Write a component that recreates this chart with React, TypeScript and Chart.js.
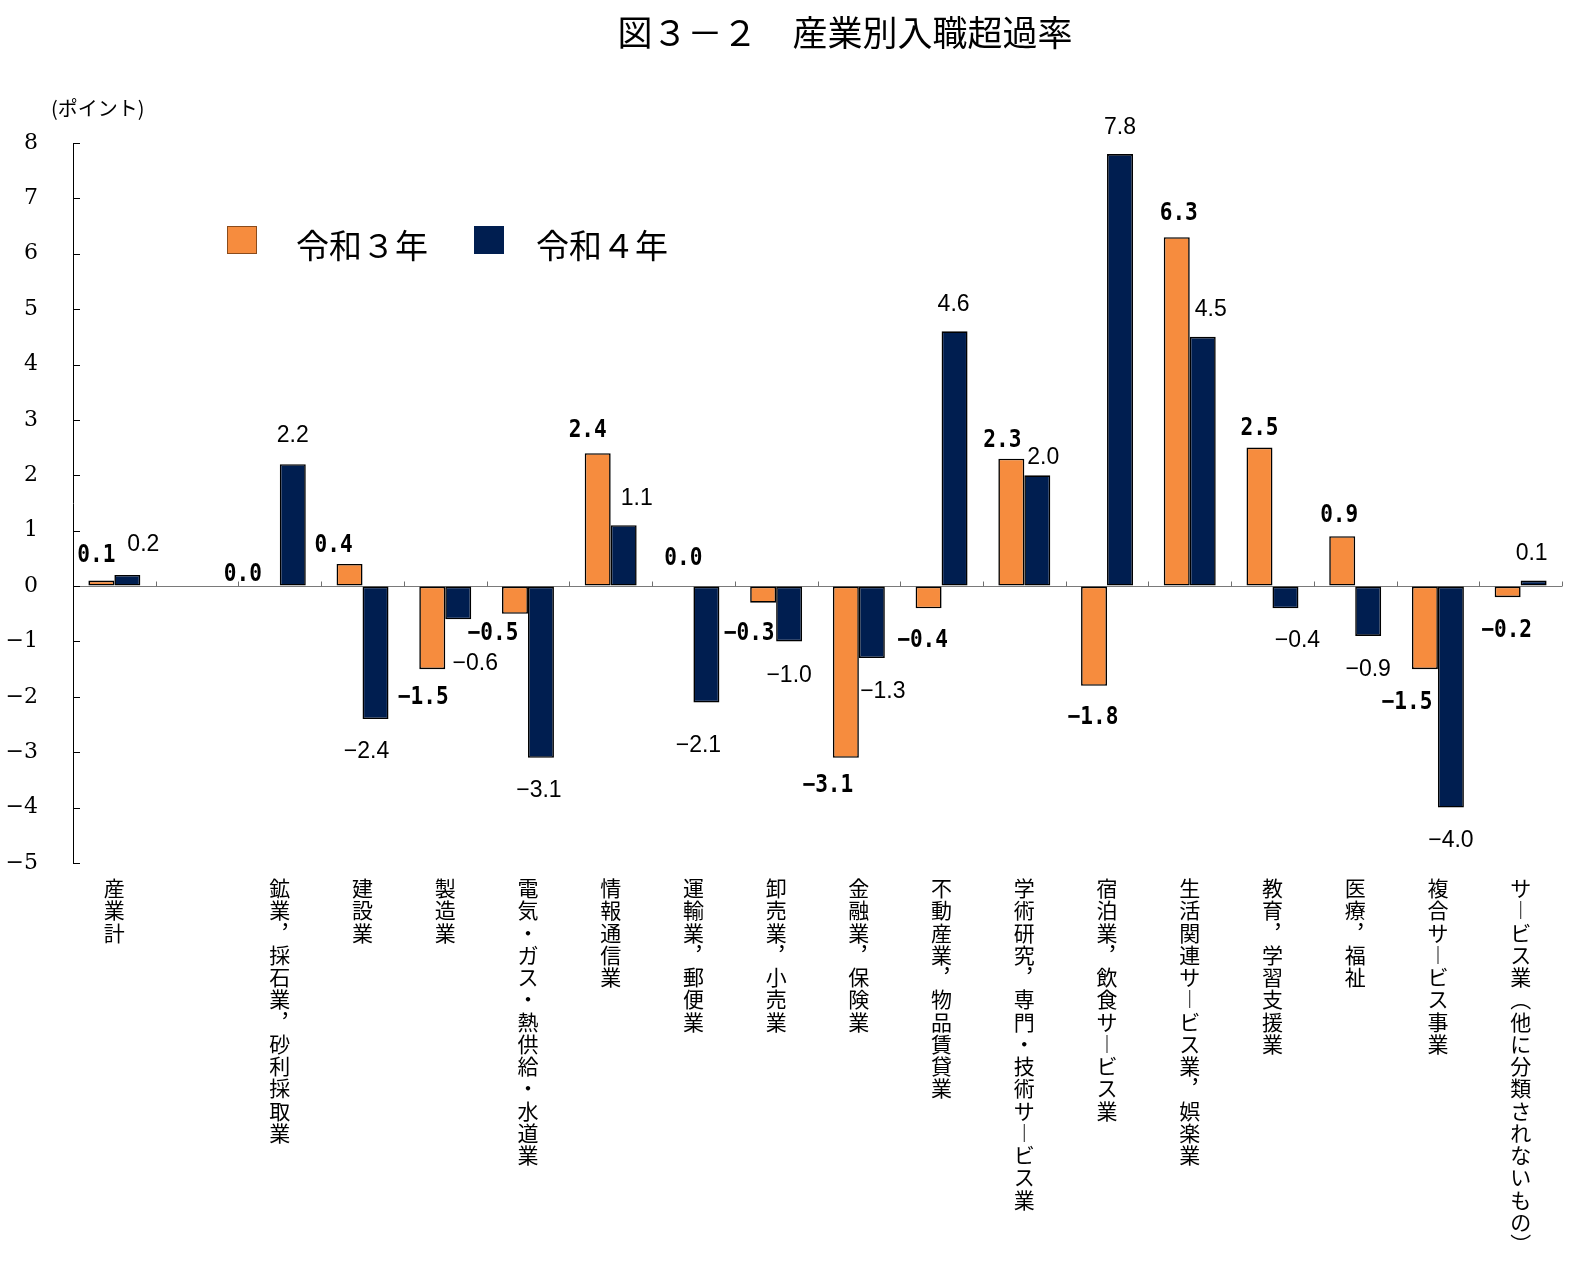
import React, { useEffect, useRef } from "react";
import { Chart, registerables } from "chart.js";

Chart.register(...registerables);

const TITLE = "図３－２　産業別入職超過率";
const UNIT_LABEL = "(ポイント)";

const categories = [
  "産業計",
  "",
  "鉱業，採石業，砂利採取業",
  "建設業",
  "製造業",
  "電気・ガス・熱供給・水道業",
  "情報通信業",
  "運輸業，郵便業",
  "卸売業，小売業",
  "金融業，保険業",
  "不動産業，物品賃貸業",
  "学術研究，専門・技術サービス業",
  "宿泊業，飲食サービス業",
  "生活関連サービス業，娯楽業",
  "教育，学習支援業",
  "医療，福祉",
  "複合サービス事業",
  "サービス業（他に分類されないもの）",
];

const seriesNames = ["令和３年", "令和４年"];

const r3Values: (number | null)[] = [0.1, null, 0.0, 0.4, -1.5, -0.5, 2.4, 0.0, -0.3, -3.1, -0.4, 2.3, -1.8, 6.3, 2.5, 0.9, -1.5, -0.2];
const r4Values: (number | null)[] = [0.2, null, 2.2, -2.4, -0.6, -3.1, 1.1, -2.1, -1.0, -1.3, 4.6, 2.0, 7.8, 4.5, -0.4, -0.9, -4.0, 0.1];

const yMin = -5;
const yMax = 8;
const yStep = 1;

// label nudges (px) relative to the bar end, as placed in the original figure
const r3LabelNudge: [number, number][] = [
  [-5, -27], [0, 0], [-24, -14], [-16, -21], [-9, 26], [-22, 18], [-10, -25], [3, -30], [-14, 29],
  [-18, 26], [-6, 30], [-9, -20], [-1, 30], [2, -26], [0, -21], [-3, -23], [-18, 31], [-1, 31],
];
const r4LabelNudge: [number, number][] = [
  [16, -32], [0, 0], [0, -31], [-9, 31], [17, 42], [-2, 31], [13, -28], [-8, 41], [0, 32],
  [11, 32], [-1, -29], [6, -20], [0, -28], [8, -29], [12, 30], [0, 32], [0, 31], [-2, -29],
];

const COLOR_R3 = "#F68C3E";
const COLOR_R4 = "#001E50";

const VERTICAL_MAP: Record<string, string> = {
  "，": "\uFE10",
  "ー": "\uFE31",
  "（": "\uFE35",
  "）": "\uFE36",
};

function toVertical(s: string): string | string[] {
  if (!s) return "";
  return Array.from(s).map((c) => VERTICAL_MAP[c] || c);
}

function fmt(v: number): string {
  const s = Math.abs(v).toFixed(1);
  return v < 0 ? "\u2212" + s : s;
}

export default function App() {
  const ref = useRef<HTMLCanvasElement>(null);

  useEffect(() => {
    const canvas = ref.current;
    if (!canvas) return;

    const decor = {
      id: "decor",
      afterDraw(chart: any) {
        const ctx = chart.ctx as CanvasRenderingContext2D;
        const area = chart.chartArea;
        const xs = chart.scales.x;
        const ys = chart.scales.y;
        ctx.save();

        // title
        ctx.fillStyle = "#000";
        ctx.font = '35px "Noto Sans CJK JP"';
        ctx.textAlign = "center";
        ctx.textBaseline = "middle";
        ctx.fillText(TITLE, 845, 33);

        // unit label
        ctx.font = '20px "Noto Sans CJK JP"';
        ctx.textAlign = "left";
        ctx.fillText(UNIT_LABEL, 51, 108);

        // inner y tick marks
        ctx.strokeStyle = "#000";
        ctx.lineWidth = 1;
        ys.ticks.forEach((t: any) => {
          const py = Math.round(ys.getPixelForValue(t.value)) + 0.5;
          ctx.beginPath();
          ctx.moveTo(area.left, py);
          ctx.lineTo(area.left + 7, py);
          ctx.stroke();
        });

        // category boundary ticks on zero line
        const y0 = Math.round(ys.getPixelForValue(0)) + 0.5;
        const n = categories.length;
        const w = (area.right - area.left) / n;
        ctx.strokeStyle = "#707070";
        for (let i = 1; i <= n; i++) {
          const px = Math.round(xs.getPixelForValue(i - 1) + w / 2) + 0.5;
          ctx.beginPath();
          ctx.moveTo(px, y0);
          ctx.lineTo(px, y0 - 5);
          ctx.stroke();
        }

        // legend
        ctx.fillStyle = COLOR_R3;
        ctx.fillRect(227, 226, 30, 28);
        ctx.strokeStyle = "#8a4b1c";
        ctx.strokeRect(227.5, 226.5, 29, 27);
        ctx.fillStyle = COLOR_R4;
        ctx.fillRect(474, 226, 30, 28);
        ctx.fillStyle = "#000";
        ctx.font = '33px "Noto Sans CJK JP"';
        ctx.textAlign = "left";
        ctx.textBaseline = "middle";
        ctx.fillText(seriesNames[0], 296, 245);
        ctx.fillText(seriesNames[1], 536, 245);

        // data labels
        const specs = [
          { values: r3Values, nudge: r3LabelNudge, size: 24, sx: 0.88, font: 'bold 24px "DejaVu Sans Mono", "Liberation Mono", monospace', cap: 0.36 },
          { values: r4Values, nudge: r4LabelNudge, size: 23, sx: 1, font: '23px "Liberation Sans", Arial, sans-serif', cap: 0.36 },
        ];
        specs.forEach((sp, d) => {
          const meta = chart.getDatasetMeta(d);
          ctx.font = sp.font;
          ctx.fillStyle = "#000";
          ctx.textAlign = "center";
          ctx.textBaseline = "alphabetic";
          meta.data.forEach((el: any, i: number) => {
            const v = sp.values[i];
            if (v === null || v === undefined) return;
            const [dx, dy] = sp.nudge[i];
            ctx.save();
            ctx.translate(el.x + dx, el.y + dy + sp.size * sp.cap);
            ctx.scale(sp.sx, 1);
            ctx.fillText(fmt(v), 0, 0);
            ctx.restore();
          });
        });

        ctx.restore();
      },
    };

    const chart = new Chart(canvas, {
      type: "bar",
      data: {
        labels: categories.map(toVertical) as any,
        datasets: [
          {
            label: seriesNames[0],
            data: r3Values,
            backgroundColor: COLOR_R3,
            borderColor: "#000",
            borderWidth: 1.6,
            borderSkipped: false,
            categoryPercentage: 0.628,
            barPercentage: 1.0,
          },
          {
            label: seriesNames[1],
            data: r4Values,
            backgroundColor: COLOR_R4,
            borderColor: "#000",
            borderWidth: 1.6,
            borderSkipped: false,
            categoryPercentage: 0.628,
            barPercentage: 1.0,
          },
        ],
      },
      options: {
        responsive: false,
        animation: false,
        layout: { padding: { top: 143, right: 14, left: 0, bottom: 0 } },
        plugins: {
          legend: { display: false },
          title: { display: false },
          tooltip: { enabled: false },
        },
        scales: {
          x: {
            grid: { display: false, drawTicks: false },
            border: { display: false },
            ticks: {
              autoSkip: false,
              maxRotation: 0,
              minRotation: 0,
              padding: 14,
              color: "#000",
              font: { family: '"Noto Sans CJK JP"', size: 21, lineHeight: 1.06 },
            },
            afterFit: (s: any) => {
              s.height = 409;
            },
          },
          y: {
            min: yMin,
            max: yMax,
            grid: {
              drawTicks: false,
              color: (c: any) => (c.tick && c.tick.value === 0 ? "#7a7a7a" : "rgba(0,0,0,0)"),
              lineWidth: 1,
            },
            border: { display: true, color: "#000", width: 1 },
            ticks: {
              stepSize: yStep,
              padding: 35,
              color: "#000",
              font: { family: "'DejaVu Serif', 'Liberation Serif', serif", size: 22 },
              callback: (v: any) => (v < 0 ? "\u2212" + Math.abs(v) : String(v)),
            },
            afterFit: (s: any) => {
              s.width = 73;
            },
          },
        },
      },
      plugins: [decor],
    });

    return () => chart.destroy();
  }, []);

  return (
    <div style={{ position: "absolute", left: 0, top: 0, width: 1576, height: 1272, background: "#fff" }}>
      <canvas ref={ref} width={1576} height={1272} style={{ display: "block" }} />
    </div>
  );
}
